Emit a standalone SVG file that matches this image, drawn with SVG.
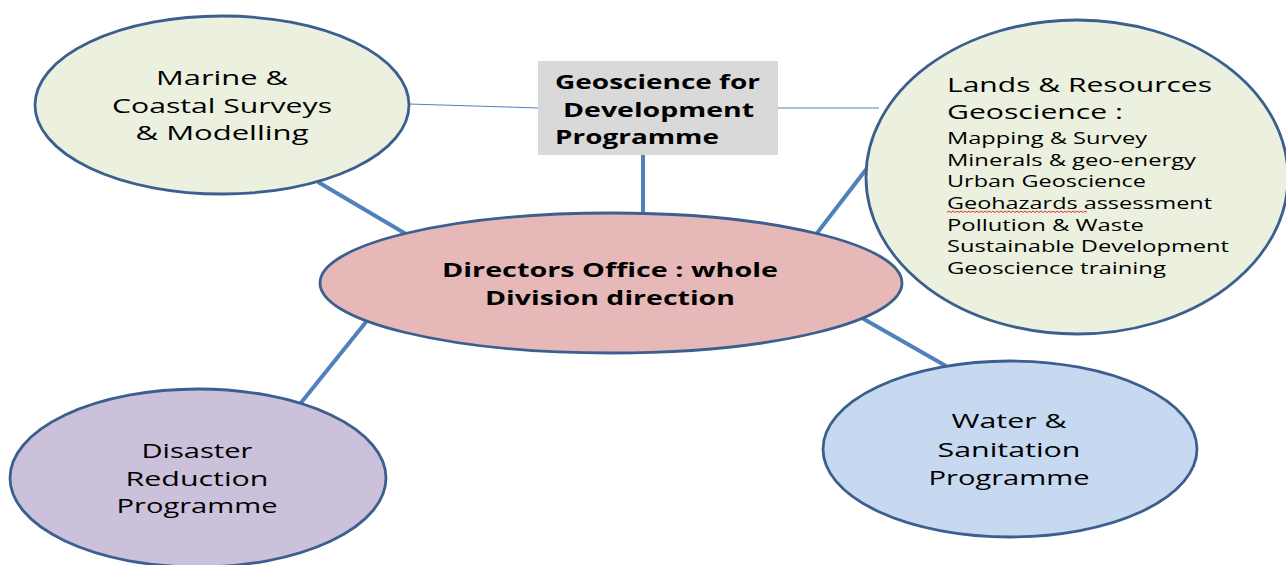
<svg xmlns="http://www.w3.org/2000/svg" width="1286" height="565" viewBox="0 0 1286 565">
<style>
.node{stroke:#3b5f8e;stroke-width:2.8}
.thin{stroke:#4f81bd;stroke-width:1;fill:none}
.thick{stroke:#4f81bd;stroke-width:4;fill:none}
text{font-family:"Open Sans","Liberation Sans",sans-serif;fill:#000}
.t{font-size:20px;text-anchor:middle}
.h{font-size:20px}
.b{font-size:19px;font-weight:bold}
.bc{font-size:20px;font-weight:bold;text-anchor:middle}
.s{font-size:16px}
</style>
<rect width="1286" height="565" fill="#ffffff"/>
<g id="connectors">
<line class="thin" x1="409" y1="104" x2="539" y2="108"/>
<line class="thin" x1="777" y1="108" x2="879" y2="108"/>
<line class="thick" x1="643" y1="155" x2="643" y2="214"/>
<line class="thick" x1="318" y1="182" x2="406" y2="234"/>
<line class="thick" x1="868" y1="167" x2="814" y2="237"/>
<line class="thick" x1="366" y1="322" x2="300" y2="404"/>
<line class="thick" x1="862" y1="318" x2="946" y2="366"/>
</g>
<g id="marine">
<ellipse class="node" cx="222" cy="105" rx="187" ry="89" fill="#ebf1de"/>
<text class="t" x="222" y="85" textLength="132" lengthAdjust="spacingAndGlyphs">Marine &amp;</text>
<text class="t" x="222" y="113" textLength="220" lengthAdjust="spacingAndGlyphs">Coastal Surveys</text>
<text class="t" x="222" y="140" textLength="173" lengthAdjust="spacingAndGlyphs">&amp; Modelling</text>
</g>
<g id="geoscience-dev">
<rect x="538" y="61" width="240" height="94" fill="#d9d9d9"/>
<text class="b" x="555" y="89" textLength="205" lengthAdjust="spacingAndGlyphs">Geoscience for</text>
<text class="b" x="563" y="117" textLength="191" lengthAdjust="spacingAndGlyphs">Development</text>
<text class="b" x="555" y="144" textLength="164" lengthAdjust="spacingAndGlyphs">Programme</text>
</g>
<g id="lands">
<ellipse class="node" cx="1077" cy="177" rx="211" ry="157" fill="#ebf1de"/>
<text class="h" x="947" y="92" textLength="265" lengthAdjust="spacingAndGlyphs">Lands &amp; Resources</text>
<text class="h" x="947" y="119" textLength="176" lengthAdjust="spacingAndGlyphs">Geoscience :</text>
<text class="s" x="947" y="144" textLength="200" lengthAdjust="spacingAndGlyphs">Mapping &amp; Survey</text>
<text class="s" x="947" y="166" textLength="249" lengthAdjust="spacingAndGlyphs">Minerals &amp; geo-energy</text>
<text class="s" x="947" y="187" textLength="199" lengthAdjust="spacingAndGlyphs">Urban Geoscience</text>
<text class="s" x="947" y="209" textLength="265" lengthAdjust="spacingAndGlyphs">Geohazards assessment</text>
<text class="s" x="947" y="231" textLength="197" lengthAdjust="spacingAndGlyphs">Pollution &amp; Waste</text>
<text class="s" x="947" y="252" textLength="282" lengthAdjust="spacingAndGlyphs">Sustainable Development</text>
<text class="s" x="947" y="274" textLength="219" lengthAdjust="spacingAndGlyphs">Geoscience training</text>
<path d="M947 212.5 l2 -1.5 l2 1.5 l2 -1.5 l2 1.5 l2 -1.5 l2 1.5 l2 -1.5 l2 1.5 l2 -1.5 l2 1.5 l2 -1.5 l2 1.5 l2 -1.5 l2 1.5 l2 -1.5 l2 1.5 l2 -1.5 l2 1.5 l2 -1.5 l2 1.5 l2 -1.5 l2 1.5 l2 -1.5 l2 1.5 l2 -1.5 l2 1.5 l2 -1.5 l2 1.5 l2 -1.5 l2 1.5 l2 -1.5 l2 1.5 l2 -1.5 l2 1.5 l2 -1.5 l2 1.5 l2 -1.5 l2 1.5 l2 -1.5 l2 1.5 l2 -1.5 l2 1.5 l2 -1.5 l2 1.5 l2 -1.5 l2 1.5 l2 -1.5 l2 1.5 l2 -1.5 l2 1.5 l2 -1.5 l2 1.5 l2 -1.5 l2 1.5 l2 -1.5 l2 1.5 l2 -1.5 l2 1.5 l2 -1.5 l2 1.5 l2 -1.5 l2 1.5 l2 -1.5 l2 1.5 l2 -1.5 l2 1.5 l2 -1.5 l2 1.5 l2 -1.5 l2 1.5" fill="none" stroke="#e03030" stroke-width="1"/>
</g>
<g id="directors">
<ellipse class="node" cx="611" cy="283" rx="291" ry="70" fill="#e6b9b8"/>
<text class="bc" x="610" y="277" textLength="336" lengthAdjust="spacingAndGlyphs">Directors Office : whole</text>
<text class="bc" x="610" y="305" textLength="250" lengthAdjust="spacingAndGlyphs">Division direction</text>
</g>
<g id="disaster">
<ellipse class="node" cx="198" cy="478" rx="188" ry="89" fill="#ccc1da"/>
<text class="t" x="197" y="458" textLength="111" lengthAdjust="spacingAndGlyphs">Disaster</text>
<text class="t" x="197" y="486" textLength="143" lengthAdjust="spacingAndGlyphs">Reduction</text>
<text class="t" x="197" y="513" textLength="161" lengthAdjust="spacingAndGlyphs">Programme</text>
</g>
<g id="water">
<ellipse class="node" cx="1010" cy="449" rx="187" ry="88" fill="#c6d9f1"/>
<text class="t" x="1009" y="428" textLength="115" lengthAdjust="spacingAndGlyphs">Water &amp;</text>
<text class="t" x="1009" y="457" textLength="143" lengthAdjust="spacingAndGlyphs">Sanitation</text>
<text class="t" x="1009" y="485" textLength="161" lengthAdjust="spacingAndGlyphs">Programme</text>
</g>
</svg>
